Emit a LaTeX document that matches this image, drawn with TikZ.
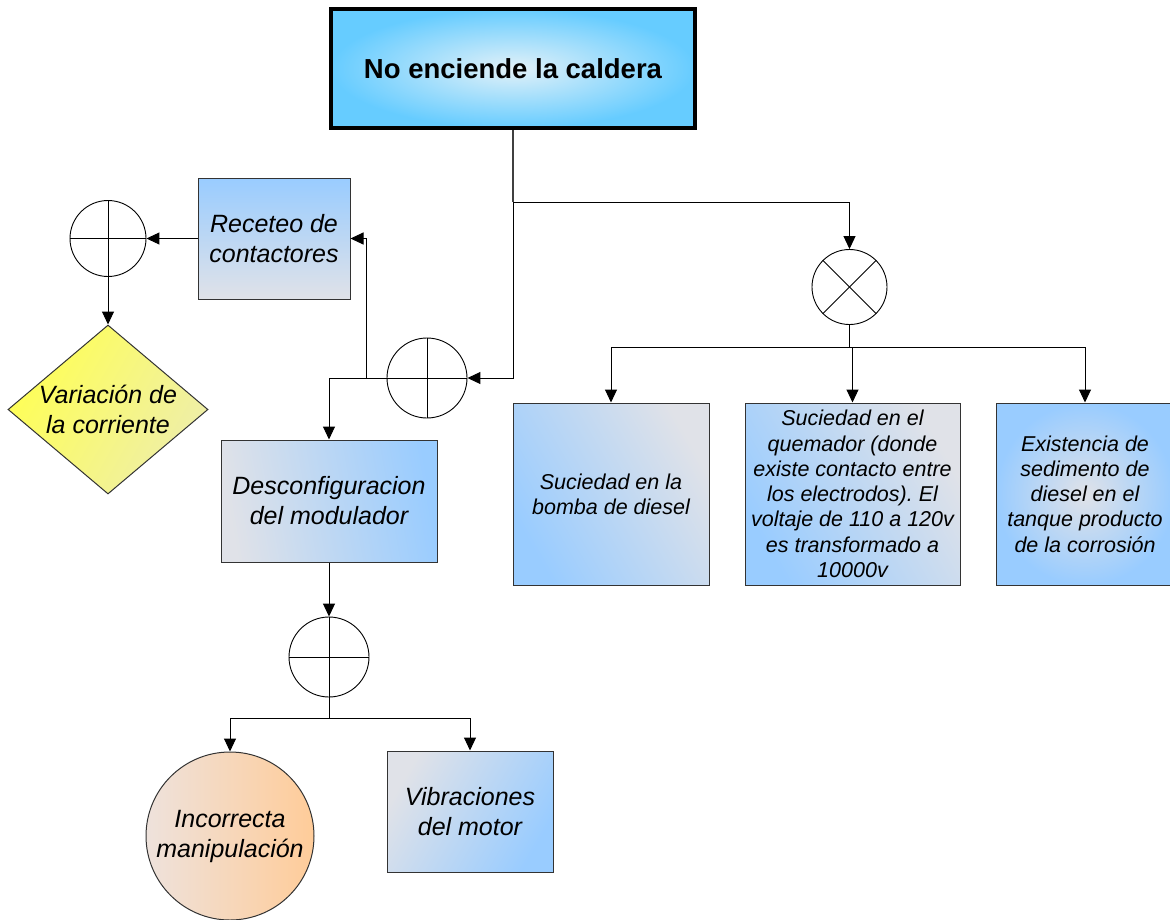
\documentclass[tikz,border=0pt]{standalone}
\usepackage{fontspec}
\setmainfont{Liberation Sans}
\usetikzlibrary{shapes.geometric,arrows.meta}
\frenchspacing
\definecolor{tblue}{HTML}{66CCFF}
\definecolor{tcenter}{HTML}{E2F1F8}
\definecolor{bblue}{HTML}{99CCFF}
\definecolor{bgray}{HTML}{E0E2E8}
\definecolor{yel}{HTML}{FFFF55}
\definecolor{paleyel}{HTML}{EEEEAA}
\definecolor{org}{HTML}{FFCC99}
\definecolor{paleorg}{HTML}{EEE2DC}
\tikzset{
  bigtxt/.style={font=\fontsize{25}{30}\selectfont\itshape, align=center},
  smalltxt/.style={font=\fontsize{21.5}{25.3}\selectfont\itshape, align=center},
  box/.style={draw=black!80, line width=1pt, inner sep=0pt, rectangle},
  gate/.style={draw, circle, line width=0.9pt, inner sep=0pt, fill=white},
  conn/.style={line width=1pt, draw=black},
  arr/.style={conn, -{Triangle[length=13pt,width=12pt]}},
}
\begin{document}
\begin{tikzpicture}[x=1pt,y=-1pt]
\useasboundingbox (0,0) rectangle (1170,919);

% top event
\node[box, line width=4pt, draw=black, minimum width=364pt, minimum height=119pt,
      inner color=tcenter, outer color=tblue,
      font=\fontsize{27.5}{33}\selectfont\bfseries] (top) at (513,68.5) {No enciende la caldera};

% gates
\node[gate, minimum size=76pt] (org0) at (108,238.5) {};
\node[gate, minimum size=80pt] (org1) at (427,378) {};
\node[gate, minimum size=80pt] (org2) at (329,657) {};
\node[gate, minimum size=75pt] (andg) at (849.5,287) {};
\foreach \g in {org0,org1,org2}{
  \draw[line width=0.9pt] (\g.north) -- (\g.south);
  \draw[line width=0.9pt] (\g.west) -- (\g.east);
}
\draw[line width=0.9pt] (andg.north west) -- (andg.south east);
\draw[line width=0.9pt] (andg.north east) -- (andg.south west);

% events
\node[box, minimum width=152pt, minimum height=121pt, top color=bblue, bottom color=bgray, bigtxt]
  (rec) at (274,238.5) {Receteo de\\contactores};
\node[diamond, draw=black!80, line width=1pt, inner sep=0pt, minimum width=200pt, minimum height=169pt,
      left color=yel, right color=paleyel, shading angle=60,
      label={[bigtxt]center:{Variación de\\la corriente}}] (var) at (108,409.5) {};
\node[box, minimum width=216pt, minimum height=122pt, left color=bgray, right color=bblue, shading angle=100, bigtxt]
  (des) at (329,501) {Desconfiguracion\\del modulador};
\node[circle, draw=black!80, line width=1pt, inner sep=0pt, minimum size=168pt,
      left color=paleorg, right color=org, bigtxt] (inc) at (230,836) {Incorrecta\\manipulación};
\node[box, minimum width=166pt, minimum height=121pt, left color=bgray, right color=bblue, shading angle=60, bigtxt]
  (vib) at (470,811.5) {Vibraciones\\del motor};
\node[box, minimum width=196pt, minimum height=182pt, left color=bblue, right color=bgray, shading angle=120, smalltxt]
  (b1) at (611,494) {Suciedad en la\\bomba de diesel};
\node[box, minimum width=215pt, minimum height=182pt, left color=bblue, right color=bgray, shading angle=120, smalltxt]
  (b2) at (852.5,494) {Suciedad en el\\quemador (donde\\existe contacto entre\\los electrodos). El\\voltaje de 110 a 120v\\es transformado a\\10000v};
\node[box, minimum width=178pt, minimum height=182pt, inner color=bgray, outer color=bblue, smalltxt]
  (b3) at (1085,494) {Existencia de\\sedimento de\\diesel en el\\tanque producto\\de la corrosión};

% junction points
\coordinate (j1) at (366,378);
\coordinate (j2) at (329,718);
\coordinate (j3) at (849.5,347);
\coordinate (j4) at (513,202);

% connectors
\draw[conn, draw=black!75, line width=1.5pt] (top.south) -- (j4);
\draw[arr] (j4) -| (andg.north);
\draw[arr] (j4) |- (org1.east);
\draw[arr] (org1.west) -- (j1) |- (rec.east);
\draw[arr] (j1) -| (des.north);
\draw[arr] (rec.west) -- (org0.east);
\draw[arr] (org0.south) -- (var.north);
\draw[arr] (des.south) -- (org2.north);
\draw[conn] (org2.south) -- (j2);
\draw[arr] (j2) -| (inc.north);
\draw[arr] (j2) -| (vib.north);
\draw[conn] (andg.south) -- (j3);
\draw[arr] (j3) -| (b1.north);
\draw[arr] (j3) -| (b2.north);
\draw[arr] (j3) -| (b3.north);
\end{tikzpicture}
\end{document}
